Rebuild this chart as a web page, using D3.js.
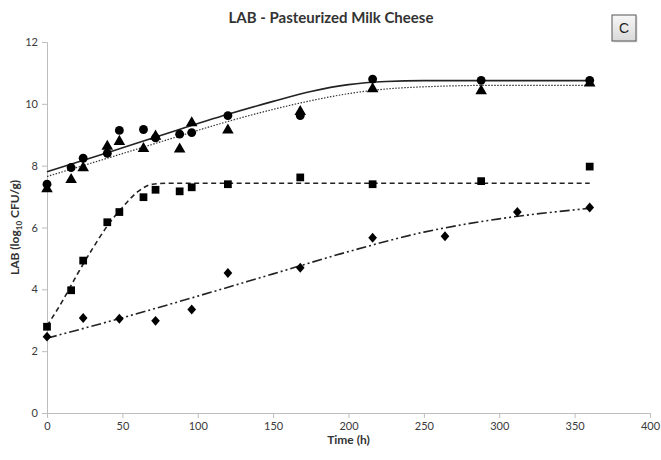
<!DOCTYPE html>
<html>
<head>
<meta charset="utf-8">
<script src="https://cdn.jsdelivr.net/npm/d3@7"></script>
<style>
  html, body { margin: 0; padding: 0; background: #fff; }
  svg { display: block; }
</style>
</head>
<body>
<svg id="chart" width="661" height="460"></svg>
<script>
// Observed counts (log10 CFU/g) at each sampling time (h)
const sampleTimes = [0, 16, 24, 40, 48, 64, 72, 88, 96, 120, 168, 216, 288, 360];
const circleValues = [7.4, 7.94, 8.24, 8.4, 9.14, 9.17, 8.9, 9.02, 9.07, 9.62, 9.62, 10.8, 10.76, 10.76];
const triangleValues = [7.25, 7.55, 7.93, 8.62, 8.78, 8.55, 8.95, 8.53, 9.38, 9.15, 9.75, 10.48, 10.42, 10.67];
const squareValues = [2.79, 3.97, 4.93, 6.17, 6.5, 6.98, 7.22, 7.17, 7.3, 7.4, 7.62, 7.4, 7.5, 7.97];
const diamondTimes = [0, 24, 48, 72, 96, 120, 168, 216, 264, 312, 360];
const diamondValues = [2.47, 3.07, 3.05, 2.98, 3.35, 4.53, 4.7, 5.67, 5.72, 6.5, 6.65];

// Fitted growth curves
const fitTimesA = [0, 40, 80, 120, 150, 175, 200, 225, 250, 300, 360];
const fitSolid = [7.8, 8.42, 9.05, 9.66, 10.08, 10.4, 10.62, 10.72, 10.75, 10.75, 10.75];
const fitDotted = [7.65, 8.24, 8.84, 9.43, 9.82, 10.1, 10.33, 10.48, 10.55, 10.6, 10.6];
const fitTimesDashed = [0, 10, 20, 30, 40, 50, 60, 70, 80, 120, 200, 280, 360];
const fitDashed = [2.82, 3.6, 4.48, 5.3, 6.05, 6.65, 7.15, 7.4, 7.43, 7.43, 7.43, 7.43, 7.43];
const fitTimesDashDot = [0, 50, 100, 150, 200, 250, 300, 360];
const fitDashDot = [2.42, 3.08, 3.78, 4.5, 5.22, 5.85, 6.28, 6.62];

// Axis ticks
const xTicks = [0, 50, 100, 150, 200, 250, 300, 350, 400];
const yTicks = [0, 2, 4, 6, 8, 10, 12];

const svg = d3.select("#chart");
const font = "Lato, 'Open Sans', sans-serif";

const x = d3.scaleLinear().domain([0, 400]).range([47, 650]);
const y = d3.scaleLinear().domain([0, 12]).range([413, 42]);

// Axes
const xAxis = svg.append("g")
  .attr("transform", `translate(0,${y(0)})`)
  .call(d3.axisBottom(x).tickValues(xTicks).tickSize(5).tickPadding(4));
const yAxis = svg.append("g")
  .attr("transform", `translate(${x(0)},0)`)
  .call(d3.axisLeft(y).tickValues(yTicks).tickSize(5).tickPadding(4));

[xAxis, yAxis].forEach(g => {
  g.select(".domain").attr("stroke", "#bdbdbd").attr("stroke-width", 1);
  g.selectAll(".tick line").attr("stroke", "#bdbdbd");
  g.selectAll(".tick text")
    .attr("fill", "#3a3a3a")
    .style("font-family", font)
    .style("font-size", "11px");
});

// Title
svg.append("text")
  .attr("x", 331).attr("y", 23)
  .attr("text-anchor", "middle")
  .style("font-family", font)
  .style("font-weight", "bold")
  .style("font-size", "15px")
  .attr("fill", "#333")
  .text("LAB - Pasteurized Milk Cheese");

// Axis titles
svg.append("text")
  .attr("x", (x(0) + x(400)) / 2).attr("y", 444)
  .attr("text-anchor", "middle")
  .style("font-family", font)
  .style("font-weight", "bold")
  .style("font-size", "12px")
  .attr("fill", "#333")
  .text("Time (h)");

const yLabel = svg.append("text")
  .attr("transform", `translate(19,${(y(0) + y(12)) / 2}) rotate(-90)`)
  .attr("text-anchor", "middle")
  .style("font-family", font)
  .style("font-weight", "bold")
  .style("font-size", "12px")
  .attr("fill", "#333");
yLabel.append("tspan").text("LAB (log");
yLabel.append("tspan").attr("dy", 3).style("font-size", "8px").text("10");
yLabel.append("tspan").attr("dy", -3).text(" CFU/g)");

// Panel tag
const tag = svg.append("g").attr("transform", "translate(612,15)");
const grad = svg.append("defs").append("linearGradient")
  .attr("id", "tagFill").attr("x1", 0).attr("y1", 0).attr("x2", 0).attr("y2", 1);
grad.append("stop").attr("offset", "0%").attr("stop-color", "#f7f7f7");
grad.append("stop").attr("offset", "100%").attr("stop-color", "#d9d9d9");
tag.append("rect").attr("x", 1.5).attr("y", 1.5).attr("width", 24).attr("height", 26)
  .attr("fill", "#cfcfcf").attr("opacity", 0.6);
tag.append("rect").attr("width", 24).attr("height", 26)
  .attr("fill", "url(#tagFill)").attr("stroke", "#555").attr("stroke-width", 1);
tag.append("text").attr("x", 12).attr("y", 18)
  .attr("text-anchor", "middle")
  .style("font-family", "'Liberation Sans', Arial, sans-serif")
  .style("font-size", "14px")
  .attr("fill", "#222")
  .text("C");

// Fitted curves
const line = d3.line().x(d => x(d[0])).y(d => y(d[1])).curve(d3.curveMonotoneX);
const fits = [
  { t: fitTimesA, v: fitSolid, dash: null, width: 1.6, color: "#222" },
  { t: fitTimesA, v: fitDotted, dash: "1.5,1.5", width: 1.2, color: "#333" },
  { t: fitTimesDashed, v: fitDashed, dash: "5,3.5", width: 1.6, color: "#222" },
  { t: fitTimesDashDot, v: fitDashDot, dash: "10,3,2,3,2,3", width: 1.6, color: "#222" }
];
fits.forEach(f => {
  svg.append("path")
    .datum(f.t.map((t, i) => [t, f.v[i]]))
    .attr("d", line)
    .attr("fill", "none")
    .attr("stroke", f.color)
    .attr("stroke-width", f.width)
    .attr("stroke-dasharray", f.dash);
});

// Rhombus marker: a little taller than wide
const rhombus = {
  draw(ctx, size) {
    const w = Math.sqrt(size) * 0.55, h = w * 1.15;
    ctx.moveTo(0, -h); ctx.lineTo(w, 0); ctx.lineTo(0, h); ctx.lineTo(-w, 0); ctx.closePath();
  }
};

// Observed points
const series = [
  { t: sampleTimes, v: triangleValues, type: d3.symbolTriangle, size: 58 },
  { t: sampleTimes, v: circleValues, type: d3.symbolCircle, size: 62 },
  { t: sampleTimes, v: squareValues, type: d3.symbolSquare, size: 60 },
  { t: diamondTimes, v: diamondValues, type: rhombus, size: 62 }
];
series.forEach(s => {
  svg.append("g").selectAll("path")
    .data(s.t.map((t, i) => [t, s.v[i]]))
    .join("path")
    .attr("transform", d => `translate(${x(d[0])},${y(d[1])})`)
    .attr("d", d3.symbol().type(s.type).size(s.size))
    .attr("fill", "#000");
});
</script>
</body>
</html>
